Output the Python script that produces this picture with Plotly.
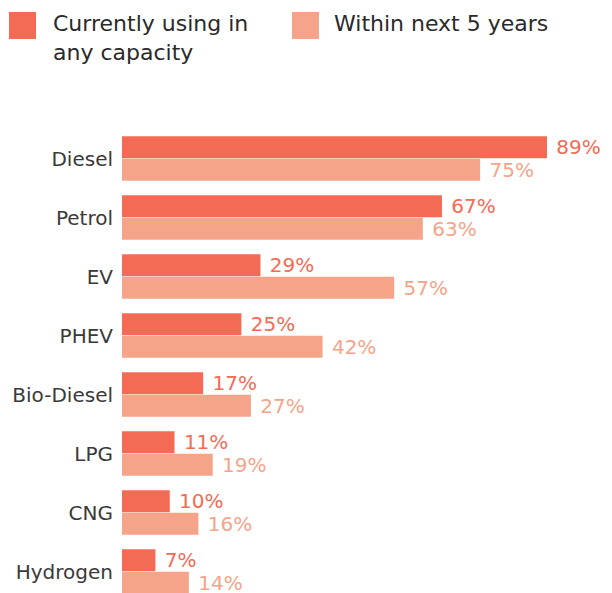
import plotly.graph_objects as go

categories = ["Diesel", "Petrol", "EV", "PHEV", "Bio-Diesel", "LPG", "CNG", "Hydrogen"]
current = [89, 67, 29, 25, 17, 11, 10, 7]
next5 = [75, 63, 57, 42, 27, 19, 16, 14]
series_names = ["Currently using in<br>any capacity", "Within next 5 years"]
colors = ["#F36B55", "#F6A489"]

W, H = 612, 593
L, T, R, B = 122, 129, 0, 0
pw, ph = W - L - R, H - T - B

def px(x):
    return (x - L) / pw

def py(y):
    return (H - B - y) / ph

fig = go.Figure()
for vals, name, c in zip([current, next5], series_names, colors):
    fig.add_trace(go.Bar(
        y=categories, x=vals, orientation="h", name=name,
        marker=dict(color=c, line=dict(width=0)),
        text=[f"\u00a0{v}%" for v in vals], textposition="outside",
        constraintext="none",
        textfont=dict(family="DejaVu Sans", size=20, color=c),
        cliponaxis=False, showlegend=False,
    ))

fig.update_layout(
    width=W, height=H,
    margin=dict(l=L, r=R, t=T, b=B, pad=0),
    plot_bgcolor="white", paper_bgcolor="white",
    barmode="group", bargap=0.237, bargroupgap=0.03,
    xaxis=dict(range=[0, pw / 4.775], visible=False, showgrid=False, zeroline=False),
    yaxis=dict(range=[-0.5 + ph / 59.0, -0.5], showgrid=False, zeroline=False,
               showline=False, ticks="", ticklabelstandoff=8,
               tickfont=dict(family="DejaVu Sans", size=20, color="#3a3a3a")),
    uniformtext=dict(mode=False),
)

# custom legend
leg = [(9, 36, 51), (292, 319, 332)]
for (x0, x1, tx), name, c in zip(leg, series_names, colors):
    fig.add_shape(type="rect", xref="paper", yref="paper",
                  x0=px(x0), x1=px(x1), y0=py(39), y1=py(12),
                  fillcolor=c, line=dict(width=0))
    fig.add_annotation(xref="paper", yref="paper", x=px(tx), y=py(9),
                       xanchor="left", yanchor="top", align="left",
                       text=name, showarrow=False,
                       font=dict(family="DejaVu Sans", size=22, color="#2a2a2a"))

fig.write_html("out.html")
